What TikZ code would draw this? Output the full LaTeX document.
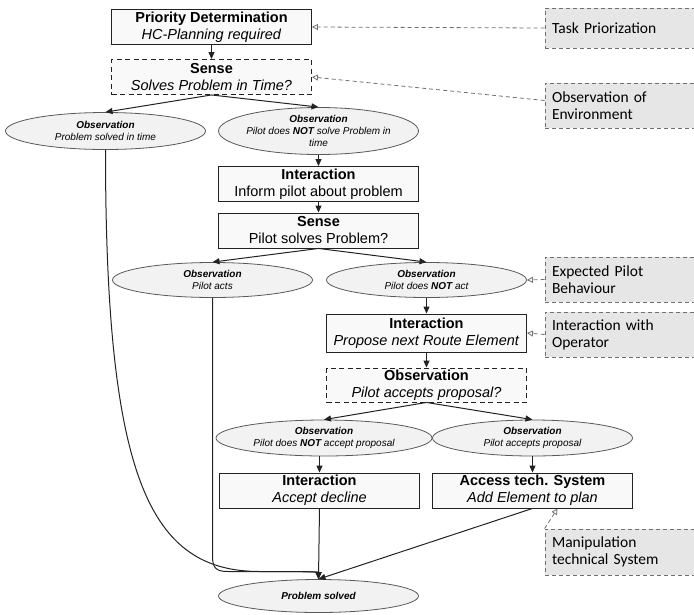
\documentclass[tikz,border=0pt]{standalone}
\usepackage{fontspec}
\setmainfont{Liberation Sans}
\newfontfamily\notefont{Carlito}
\usetikzlibrary{calc,arrows.meta,shapes.geometric}
\definecolor{boxfill}{HTML}{F9F9F9}
\definecolor{obsfill}{HTML}{F2F2F2}
\definecolor{notefill}{HTML}{E6E6E6}
\definecolor{edgec}{HTML}{222222}
\definecolor{hintc}{HTML}{707070}

\begin{document}
\begin{tikzpicture}[x=1pt, y=-1pt,
  box/.style={draw=edgec, fill=boxfill, line width=0.9pt, minimum width=200pt, minimum height=35pt, inner sep=0pt, align=center, font=\fontsize{14.5}{17}\selectfont},
  dbox/.style={box, dash pattern=on 5pt off 3.5pt},
  obs/.style={ellipse, draw=edgec!75, fill=obsfill, line width=0.8pt, minimum width=200pt, minimum height=37pt, inner sep=-8pt, align=center, font=\fontsize{10}{12}\selectfont\itshape},
  note/.style={draw=hintc, dash pattern=on 4pt off 3pt, fill=notefill, line width=0.8pt, minimum width=150pt, minimum height=45pt, text width=136pt, inner xsep=7pt, inner ysep=0pt, align=left, font=\notefont\fontsize{15.5}{17}\selectfont},
  flow/.style={draw=edgec, line width=1pt, -{Triangle[length=7pt,width=6pt]}},
  hint/.style={draw=hintc, line width=0.8pt, dash pattern=on 4pt off 3pt, -{Triangle[open,length=6pt,width=6pt]}}]
\useasboundingbox (0,0) rectangle (694,614);

\node[box] (P) at (211.5,27) {\textbf{Priority Determination}\\\textit{HC-Planning required}};
\node[dbox] (S1) at (211.5,77) {\textbf{Sense}\\\textit{Solves Problem in Time?}};
\node[obs] (O1) at (105.5,131) {\textbf{Observation}\\Problem solved in time};
\node[obs, minimum height=47pt] (O2) at (318.5,131) {\textbf{Observation}\\Pilot does \textbf{NOT} solve Problem in\\time};
\node[box] (I1) at (318.5,184) {\textbf{Interaction}\\Inform pilot about problem};
\node[box] (S2) at (318.5,230.5) {\textbf{Sense}\\Pilot solves Problem?};
\node[obs, minimum height=35pt] (O3) at (212.5,280) {\textbf{Observation}\\Pilot acts};
\node[obs, minimum height=35pt] (O4) at (426.5,280) {\textbf{Observation}\\Pilot does \textbf{NOT} act};
\node[box, minimum height=38pt] (I2) at (426.5,333) {\textbf{Interaction}\\\textit{Propose next Route Element}};
\node[dbox, minimum height=34pt] (Q) at (426.5,385) {\textbf{Observation}\\\textit{Pilot accepts proposal?}};
\node[obs, minimum width=216pt, minimum height=36pt] (O5) at (324,438) {\textbf{Observation}\\Pilot does \textbf{NOT} accept proposal};
\node[obs, minimum height=36pt] (O6) at (532.5,438) {\textbf{Observation}\\Pilot accepts proposal};
\node[box] (D) at (319.5,490.5) {\textbf{Interaction}\\\textit{Accept decline}};
\node[box] (A) at (532.5,490.5) {\textbf{Access tech. System}\\\textit{Add Element to plan}};
\node[obs, minimum height=33pt] (PS) at (318.5,596) {\textbf{Problem solved}};

% notes on the right
\node[note, minimum height=40pt] (T) at (620,28) {Task Priorization};
\node[note] (E) at (620,105.5) {Observation of\\Environment};
\node[note] (B) at (620,279.5) {Expected Pilot\\Behaviour};
\node[note] (Op) at (620,334.5) {Interaction with\\Operator};
\node[note, minimum height=46pt] (M) at (620,552) {Manipulation\\technical System};

\draw[flow] (P) -- (S1);
\draw[flow] (S1.south) -- (O1.north);
\draw[flow] (S1.south) -- (O2.north);
\draw[flow] (O2) -- (I1);
\draw[flow] (I1) -- (S2);
\draw[flow] (S2.south) -- (O3.north);
\draw[flow] (S2.south) -- (O4.north);
\draw[flow] (O4) -- (I2);
\draw[flow] (I2) -- (Q);
\draw[flow] (Q.south) -- (O5.north);
\draw[flow] (Q.south) -- (O6.north);
\draw[flow] (O5.south -| D.north) -- (D.north);
\draw[flow] (O6) -- (A);
\draw[flow] (D.south) -- (PS.north);
\draw[flow] (A.south) -- (PS.north);
\draw[flow] (O1.south) .. controls (105.5,480) and (150,571.5) .. (260,571.5) .. controls (305,571.5) and (318.5,572) .. (PS.north);
\draw[flow] (O3.south) -- (212.5,556) .. controls (212.5,568) and (216,571.5) .. (228,571.5) -- (290,571.5) .. controls (308,571.5) and (318.5,572) .. (PS.north);

\draw[hint] (T.west) -- (P.east);
\draw[hint] ([yshift=5pt]E.west) -- (S1.east);
\draw[hint] (B.west) -- (O4.east);
\draw[hint] (Op.west) -- (I2.east);
\draw[hint] (M.north west) -- ($(A.south)+(25,0)$);
\end{tikzpicture}
\end{document}
